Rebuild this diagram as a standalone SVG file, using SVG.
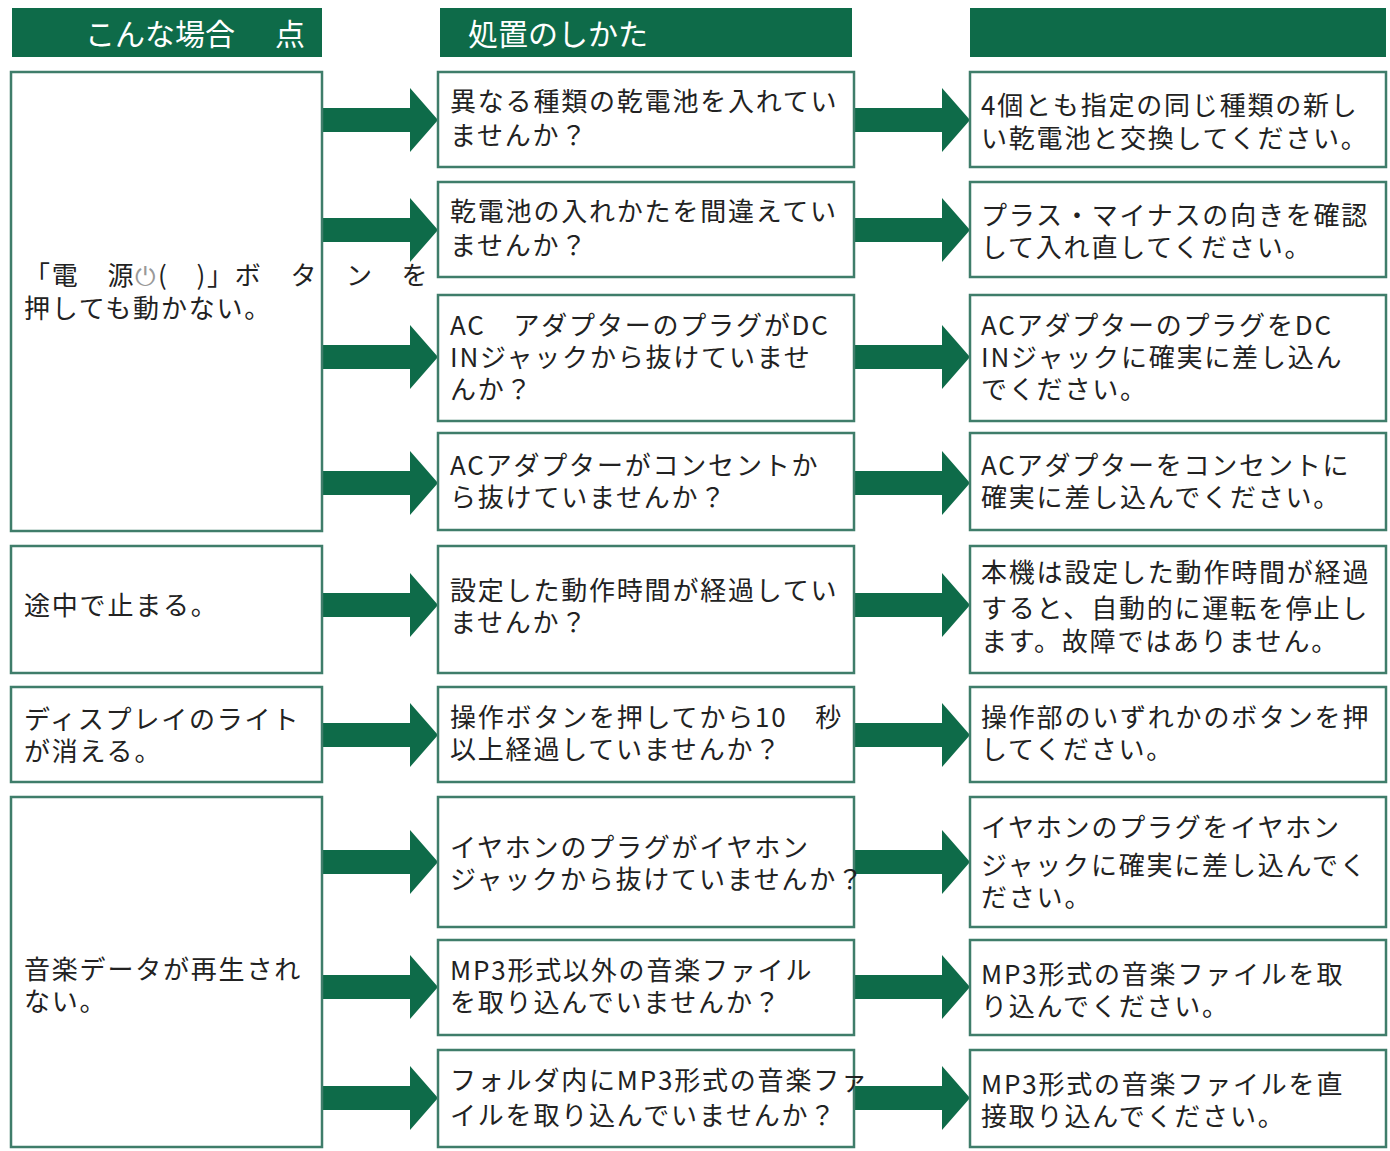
<svg xmlns="http://www.w3.org/2000/svg" width="1390" height="1151" viewBox="0 0 1390 1151">
<defs>
<style>
.h{fill:#0e6b49}
.b{fill:#fff;stroke:#3f7d6a;stroke-width:2.5}
.t{font-family:"Noto Sans CJK JP",sans-serif;font-size:26px;fill:#222;letter-spacing:1.8px}
.ht{font-family:"Noto Sans CJK JP",sans-serif;font-size:30px;fill:#fff}
.a{fill:#0e6b49}
</style>
<path id="ar" d="M0,-12 H88 V-32 L116,0 L88,32 V12 H0 Z"/>
</defs>
<rect width="1390" height="1151" fill="#fff"/>
<g id="headers">
<rect class="h" x="12" y="8" width="310" height="49"/>
<text class="ht" x="85" y="45">こんな場合</text><text class="ht" x="275" y="45">点</text>
<rect class="h" x="440" y="8" width="412" height="49"/>
<text class="ht" x="468" y="45">処置のしかた</text>
<rect class="h" x="970" y="8" width="416" height="49"/>
</g>
<g id="connectors" class="a">
<use href="#ar" x="322" y="120"/><use href="#ar" x="854" y="120"/>
<use href="#ar" x="322" y="230"/><use href="#ar" x="854" y="230"/>
<use href="#ar" x="322" y="357"/><use href="#ar" x="854" y="357"/>
<use href="#ar" x="322" y="483"/><use href="#ar" x="854" y="483"/>
<use href="#ar" x="322" y="605"/><use href="#ar" x="854" y="605"/>
<use href="#ar" x="322" y="735"/><use href="#ar" x="854" y="735"/>
<use href="#ar" x="322" y="862"/><use href="#ar" x="854" y="862"/>
<use href="#ar" x="322" y="987"/><use href="#ar" x="854" y="987"/>
<use href="#ar" x="322" y="1098"/><use href="#ar" x="854" y="1098"/>
</g>
<g id="c1"><rect class="b" x="11" y="72" width="311" height="459"/>
<text class="t" x="24" y="285">「電　源<tspan fill="#999">⏻</tspan>(　)」ボ　タ　ン　を</text><text class="t" x="24" y="318">押しても動かない。</text></g>
<g id="c2"><rect class="b" x="11" y="546" width="311" height="127"/><text class="t" x="24" y="615">途中で止まる。</text></g>
<g id="c3"><rect class="b" x="11" y="687" width="311" height="95"/><text class="t" x="24" y="729">ディスプレイのライト</text><text class="t" x="24" y="761">が消える。</text></g>
<g id="c4"><rect class="b" x="11" y="797" width="311" height="350"/><text class="t" x="24" y="979">音楽データが再生され</text><text class="t" x="24" y="1011">ない。</text></g>

<g id="m1"><rect class="b" x="438" y="72" width="416" height="95"/><text class="t" x="450" y="111">異なる種類の乾電池を入れてい</text><text class="t" x="450" y="145">ませんか？</text></g>
<g id="m2"><rect class="b" x="438" y="182" width="416" height="95"/><text class="t" x="450" y="221">乾電池の入れかたを間違えてい</text><text class="t" x="450" y="255">ませんか？</text></g>
<g id="m3"><rect class="b" x="438" y="295" width="416" height="126"/><text class="t" x="450" y="335">AC　アダプターのプラグがDC</text><text class="t" x="450" y="367">INジャックから抜けていませ</text><text class="t" x="450" y="399">んか？</text></g>
<g id="m4"><rect class="b" x="438" y="433" width="416" height="97"/><text class="t" x="450" y="475">ACアダプターがコンセントか</text><text class="t" x="450" y="507">ら抜けていませんか？</text></g>
<g id="m5"><rect class="b" x="438" y="546" width="416" height="127"/><text class="t" x="450" y="600">設定した動作時間が経過してい</text><text class="t" x="450" y="632">ませんか？</text></g>
<g id="m6"><rect class="b" x="438" y="687" width="416" height="95"/><text class="t" x="450" y="727">操作ボタンを押してから10　秒</text><text class="t" x="450" y="759">以上経過していませんか？</text></g>
<g id="m7"><rect class="b" x="438" y="797" width="416" height="130"/><text class="t" x="450" y="857">イヤホンのプラグがイヤホン</text><text class="t" x="450" y="889">ジャックから抜けていませんか？</text></g>
<g id="m8"><rect class="b" x="438" y="940" width="416" height="95"/><text class="t" x="450" y="980">MP3形式以外の音楽ファイル</text><text class="t" x="450" y="1012">を取り込んでいませんか？</text></g>
<g id="m9"><rect class="b" x="438" y="1050" width="416" height="97"/><text class="t" x="450" y="1090">フォルダ内にMP3形式の音楽ファ</text><text class="t" x="450" y="1125">イルを取り込んでいませんか？</text></g>

<g id="r1"><rect class="b" x="970" y="72" width="416" height="95"/><text class="t" x="981" y="115">4個とも指定の同じ種類の新し</text><text class="t" x="981" y="148">い乾電池と交換してください。</text></g>
<g id="r2"><rect class="b" x="970" y="182" width="416" height="95"/><text class="t" x="981" y="225">プラス・マイナスの向きを確認</text><text class="t" x="981" y="257">して入れ直してください。</text></g>
<g id="r3"><rect class="b" x="970" y="295" width="416" height="126"/><text class="t" x="981" y="335">ACアダプターのプラグをDC</text><text class="t" x="981" y="367">INジャックに確実に差し込ん</text><text class="t" x="981" y="399">でください。</text></g>
<g id="r4"><rect class="b" x="970" y="433" width="416" height="97"/><text class="t" x="981" y="475">ACアダプターをコンセントに</text><text class="t" x="981" y="507">確実に差し込んでください。</text></g>
<g id="r5"><rect class="b" x="970" y="546" width="416" height="127"/><text class="t" x="981" y="582">本機は設定した動作時間が経過</text><text class="t" x="981" y="618">すると、自動的に運転を停止し</text><text class="t" x="981" y="651">ます。故障ではありません。</text></g>
<g id="r6"><rect class="b" x="970" y="687" width="416" height="95"/><text class="t" x="981" y="727">操作部のいずれかのボタンを押</text><text class="t" x="981" y="759">してください。</text></g>
<g id="r7"><rect class="b" x="970" y="797" width="416" height="130"/><text class="t" x="981" y="837">イヤホンのプラグをイヤホン</text><text class="t" x="981" y="875">ジャックに確実に差し込んでく</text><text class="t" x="981" y="907">ださい。</text></g>
<g id="r8"><rect class="b" x="970" y="940" width="416" height="95"/><text class="t" x="981" y="984">MP3形式の音楽ファイルを取</text><text class="t" x="981" y="1016">り込んでください。</text></g>
<g id="r9"><rect class="b" x="970" y="1050" width="416" height="97"/><text class="t" x="981" y="1094">MP3形式の音楽ファイルを直</text><text class="t" x="981" y="1126">接取り込んでください。</text></g>
</svg>
